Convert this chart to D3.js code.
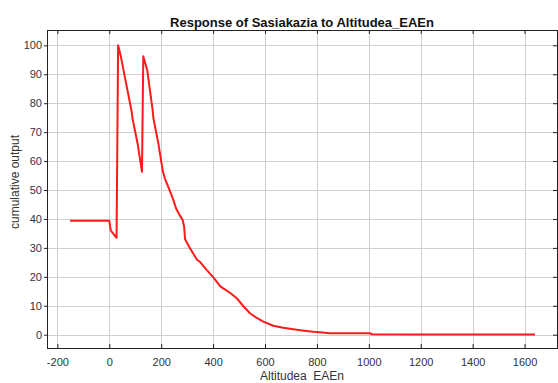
<!DOCTYPE html>
<html>
<head>
<meta charset="utf-8">
<script src="https://cdn.jsdelivr.net/npm/d3@7"></script>
<style>
  html, body { margin: 0; padding: 0; background: #fff; }
  svg { display: block; font-family: "Liberation Sans", Arial, sans-serif; }
</style>
</head>
<body>
<svg id="chart" width="558" height="383"></svg>
<script>
// Response curve: altitude (x) against cumulative output (y)
const altitude = [-151, 0, 3, 6, 28, 34, 38, 45, 60, 86, 90, 109, 126, 131, 134, 146, 167, 170, 189, 206, 215, 230, 247, 257, 270, 283, 288, 292, 311, 337, 350, 375, 401, 427, 439, 465, 491, 515, 542, 565, 593, 632, 670, 709, 750, 786, 800, 850, 1004, 1012, 1200, 1640];
const cumulative = [39.4, 39.4, 37.5, 36.0, 33.5, 100, 98.6, 96, 89, 77.2, 74.5, 66.1, 56.3, 96.2, 95.3, 91.5, 77.6, 74.8, 66.1, 56.6, 53.8, 50.5, 46.5, 43.7, 41.5, 39.6, 37.5, 33.0, 29.9, 26.0, 25.1, 22.4, 19.8, 16.8, 16.0, 14.5, 12.6, 10.0, 7.4, 6.0, 4.5, 3.1, 2.4, 1.9, 1.4, 1.0, 0.9, 0.5, 0.5, 0.15, 0.1, 0.1];

const xTicks = [-200, 0, 200, 400, 600, 800, 1000, 1200, 1400, 1600];
const yTicks = [0, 10, 20, 30, 40, 50, 60, 70, 80, 90, 100];

const titleText = "Response of Sasiakazia to Altitudea_EAEn";
const xLabel = "Altitudea  EAEn";
const yLabel = "cumulative output";

const plotLeft = 47, plotRight = 557, plotTop = 30, plotBottom = 348;

const x = d3.scaleLinear().domain([-240, 1725]).range([plotLeft, plotRight]);
const y = d3.scaleLinear().domain([-4.6, 105.3]).range([plotBottom, plotTop]);

const svg = d3.select("#chart");

// plot background
svg.append("rect").attr("x", plotLeft).attr("y", plotTop)
  .attr("width", plotRight - plotLeft).attr("height", plotBottom - plotTop).attr("fill", "#fff");

// grid lines
const grid = svg.append("g").attr("stroke", "#cfcfcf").attr("stroke-width", 1);
grid.selectAll("line.v").data(xTicks).join("line").attr("class", "v")
  .attr("x1", d => Math.round(x(d)) + 0.5).attr("x2", d => Math.round(x(d)) + 0.5)
  .attr("y1", plotTop).attr("y2", plotBottom);
grid.selectAll("line.h").data(yTicks).join("line").attr("class", "h")
  .attr("y1", d => Math.round(y(d)) + 0.5).attr("y2", d => Math.round(y(d)) + 0.5)
  .attr("x1", plotLeft).attr("x2", plotRight);

// axes
const axisStyle = g => {
  g.select(".domain").remove();
  g.selectAll(".tick line").attr("stroke", "#222");
  g.selectAll(".tick text").attr("fill", "#333").style("font-size", "11px")
    .style("font-family", "\"Liberation Sans\", Arial, sans-serif");
};
const plain = d => String(d);

svg.append("g").attr("transform", `translate(0,${plotBottom})`)
  .call(d3.axisBottom(x).tickValues(xTicks).tickSize(-4).tickPadding(10.5).tickFormat(plain))
  .call(axisStyle);
svg.append("g").attr("transform", `translate(0,${plotTop})`)
  .call(d3.axisTop(x).tickValues(xTicks).tickSize(-4).tickFormat(""))
  .call(axisStyle);
svg.append("g").attr("transform", `translate(${plotLeft},0)`)
  .call(d3.axisLeft(y).tickValues(yTicks).tickSize(3).tickPadding(2).tickFormat(plain))
  .call(axisStyle);
svg.append("g").attr("transform", `translate(${plotRight},0)`)
  .call(d3.axisRight(y).tickValues(yTicks).tickSize(-4).tickFormat(""))
  .call(axisStyle);

// frame
svg.append("rect").attr("x", plotLeft + 0.5).attr("y", plotTop + 0.5)
  .attr("width", plotRight - plotLeft).attr("height", plotBottom - plotTop)
  .attr("fill", "none").attr("stroke", "#222").attr("stroke-width", 1);

// response curve
const line = d3.line().x((d, i) => x(altitude[i])).y(d => y(d));
svg.append("path").datum(cumulative)
  .attr("d", line)
  .attr("fill", "none")
  .attr("stroke", "#ff1a1a")
  .attr("stroke-width", 2)
  .attr("stroke-linejoin", "round");

// title and axis labels
svg.append("text").attr("x", 302).attr("y", 26.5).attr("text-anchor", "middle")
  .style("font-size", "13px").style("font-weight", "bold").attr("fill", "#111")
  .text(titleText);
svg.append("text").attr("x", 302).attr("y", 380).attr("text-anchor", "middle")
  .style("font-size", "12px").attr("fill", "#333").style("white-space", "pre")
  .text(xLabel);
svg.append("text").attr("transform", "translate(18.5,182) rotate(-90)")
  .attr("text-anchor", "middle").style("font-size", "12px").attr("fill", "#333")
  .text(yLabel);
</script>
</body>
</html>
